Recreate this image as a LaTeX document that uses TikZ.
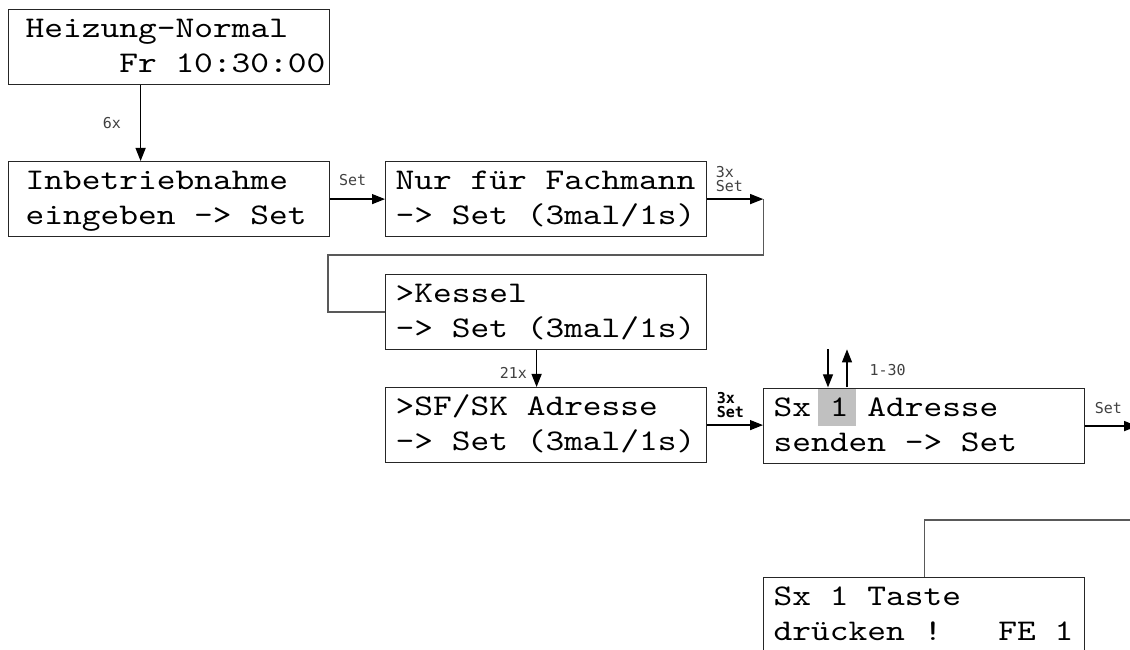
\documentclass[tikz,border=0pt]{standalone}
\usepackage{fontspec}
\setmonofont{lmmono10-regular}[Extension=.otf, FakeStretch=1.19]
\newfontfamily\lblfont{DejaVu Sans Mono}
\usetikzlibrary{arrows.meta,calc}
\definecolor{selgray}{RGB}{192,192,192}
\newcommand{\lcdstrut}{\rule[-9.5pt]{0pt}{35pt}}
\newcommand{\lcdspace}{\spaceskip=\fontcharwd\font`\x\relax}
\newcommand{\zeile}[1]{\mbox{\lcdspace\lcdstrut #1}}

\begin{document}
\begin{tikzpicture}[x=1pt, y=1pt, line width=1.2pt,
    lcd/.style={draw=black!85, anchor=north west, minimum height=75pt, inner ysep=0pt, align=left,
      font=\ttfamily\fontsize{30}{35}\selectfont},
    lcdl/.style={lcd, inner xsep=17pt, text width=287pt},
    lcdr/.style={lcd, inner xsep=10pt, text width=301pt},
    arr/.style={-{Triangle[length=13pt,width=10pt]}},
    route/.style={draw=black!65},
    lbl/.style={font=\lblfont\fontsize{15}{14}\selectfont, text=black!75, inner sep=0pt, align=left},
    sel/.style={fill=selgray, minimum width=38pt, minimum height=38pt, inner sep=0pt}]
    \useasboundingbox (0,0) rectangle (1130,650);
    \node[sel] (sel) at (837,243) {};
    \node[lcdl] (heiz) at (8,641) {\zeile{Heizung-Normal}\\\zeile{\ \ \ \ \ Fr 10:30:00}};
    \node[lcdl] (inbe) at (8,489) {\zeile{Inbetriebnahme}\\\zeile{eingeben -> Set}};
    \node[lcdr] (fach) at (385,489) {\zeile{Nur für Fachmann}\\\zeile{-> Set (3mal/1s)}};
    \node[lcdr] (kess) at (385,376) {\zeile{>Kessel}\\\zeile{-> Set (3mal/1s)}};
    \node[lcdr] (sfsk) at (385,263) {\zeile{>SF/SK Adresse}\\\zeile{-> Set (3mal/1s)}};
    \node[lcdr] (sxad) at (763,262) {\zeile{Sx 1 Adresse}\\\zeile{senden -> Set}};
    \node[lcdr] (taste) at (763,73) {\zeile{Sx 1 Taste}\\\zeile{drücken !\ \ \ FE 1}};
    \coordinate (fk) at ([xshift=56pt]fach.east);
    \coordinate (fk2) at (328,395);
    \coordinate (sxout) at ([xshift=52pt]sxad.east);
    \coordinate (back) at (1136,130);
    \draw[arr] ([xshift=-28.5pt]heiz.south) -- ([xshift=-28.5pt]inbe.north)
        node[lbl, midway, left=19pt] {6x};
    \draw[arr] (inbe) -- (fach) node[lbl, midway, above=13pt, xshift=-5pt] {Set};
    \draw[arr] (fach.east) -- (fk)
        node[lbl, at start, anchor=south west, xshift=8pt, yshift=7pt] {3x\\Set};
    \draw[route] (fk) |- (fk2) |- (kess.west);
    \draw[arr] ([xshift=-9.5pt]kess.south) -- ([xshift=-9.5pt]sfsk.north)
        node[lbl, midway, left=9pt, yshift=-4pt] {21x};
    \draw[arr] (sfsk.east) -- (sfsk.east -| sxad.west)
        node[lbl, at start, anchor=south west, xshift=9pt, yshift=7pt, text=black,
          font=\lblfont\bfseries\fontsize{15}{14}\selectfont] {3x\\Set};
    \draw[arr] ([xshift=-9pt,yshift=38pt]sel.north) -- ([xshift=-9pt]sel.north);
    \draw[arr] ([xshift=10pt]sel.north) -- ([xshift=10pt,yshift=38pt]sel.north)
        node[lbl, pos=0.45, right=22pt] {1-30};
    \draw[arr] (sxad.east) -- (sxout)
        node[lbl, at start, anchor=south west, xshift=9pt, yshift=12pt] {Set};
    \draw[route] (back) -| (taste.north);
\end{tikzpicture}
\end{document}
